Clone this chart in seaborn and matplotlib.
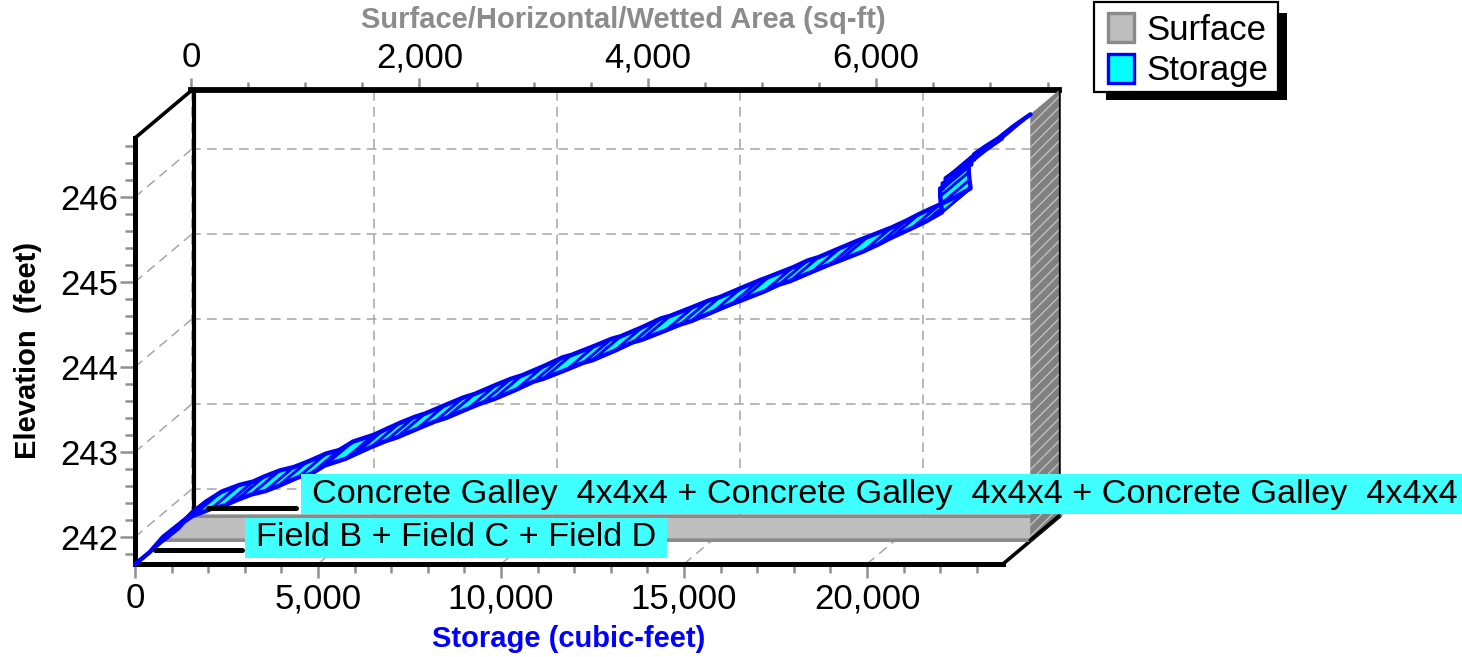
import matplotlib
matplotlib.use("Agg")
import matplotlib.pyplot as plt
import numpy as np
import seaborn as sns
from matplotlib.patches import Patch, Rectangle
from matplotlib.ticker import MultipleLocator, FuncFormatter
from matplotlib.transforms import IdentityTransform

# ---- data ----
storage_cf = [0, 400, 765, 1150, 1585, 2076, 2450, 2760, 3180, 3560, 3920, 4450, 4800, 5180, 5750, 6000, 6460, 6860,
              7150, 7700, 8200, 8500, 9100, 9500, 9800, 10400, 10900, 11150, 11800, 12250, 12500, 13100, 13600,
              13850, 14500, 14900, 15200, 15800, 16300, 16550, 17200, 17600, 17900, 18500, 19000, 19250, 19900,
              20300, 20660, 21216, 21600, 22050, 22020, 22000, 22000, 22070, 22070, 22150, 22150,
              22450, 22814, 23224, 23689]
elevation_ft = [241.68, 241.82, 242.00, 242.13, 242.25, 242.33, 242.37, 242.43, 242.50, 242.54, 242.60, 242.70, 242.74,
                242.84, 242.92, 242.97, 243.06, 243.13, 243.17, 243.27, 243.36, 243.40, 243.51, 243.58, 243.62,
                243.73, 243.83, 243.86, 243.97, 244.05, 244.08, 244.19, 244.29, 244.32, 244.43, 244.50, 244.54,
                244.65, 244.74, 244.78, 244.89, 244.97, 245.01, 245.12, 245.21, 245.25, 245.36, 245.44, 245.52,
                245.63, 245.71, 245.82, 245.92, 246.01, 246.10, 246.10, 246.16, 246.16, 246.22,
                246.31, 246.41, 246.55, 246.69]
surface_area = [0, 7590, 7590]
surface_elev = [241.68, 241.68, 246.69]
storage_ticks = [0, 5000, 10000, 15000, 20000]
area_ticks = [0, 2000, 4000, 6000]
elev_ticks = [242, 243, 244, 245, 246]
label_top = "Concrete Galley  4x4x4 + Concrete Galley  4x4x4 + Concrete Galley  4x4x4"
label_bottom = "Field B + Field C + Field D"
legend_names = ["Surface", "Storage"]

# ---- layout ----
W, H = 1462, 657
PX_S, PX_E = 0.0366, 85.0          # pixels per cubic-foot / per foot
PX_A = 0.1142                      # pixels per sq-ft
XMAX = 868 / PX_S
YMIN, YMAX = 241.682, 246.694
DX, DY = 57 / PX_S, 48 / PX_E      # full depth of the 3-D box in data units
BLUE, CYAN = "#0000FF", "#00FFFF"
LABEL_BG = "#40FFFF"
TICK = "#909090"
GRID = "#A6A6A6"
FS = 25
FS_L = 24.65
FS_T = 21

sns.set_theme(style="white")
plt.rcParams["font.family"] = ["Liberation Sans", "DejaVu Sans"]
plt.rcParams["lines.scale_dashes"] = False
plt.rcParams["hatch.linewidth"] = 1.0
DASH = (0, (7, 4.5))

fig = plt.figure(figsize=(W / 100, H / 100), dpi=100, facecolor="white")


def rect(l, t, r, b):
    return [l / W, 1 - b / H, (r - l) / W, (b - t) / H]


back = fig.add_axes(rect(191, 90, 1059, 516), zorder=1)
front = fig.add_axes(rect(135, 138, 1003, 564), zorder=2)
front.patch.set_alpha(0)
for a in (back, front):
    a.set_xlim(0, XMAX)
    a.set_ylim(YMIN, YMAX)

# back wall
back.set_xticks(storage_ticks)
back.set_yticks(elev_ticks)
back.grid(True, color=GRID, lw=1.1, ls=DASH)
back.tick_params(bottom=False, left=False, labelbottom=False, labelleft=False)
back.spines["bottom"].set_visible(False)
back.spines["left"].set_color("black")
back.spines["left"].set_linewidth(3)
back.spines["left"].set_position(("outward", -2))
back.spines["right"].set_color("black")
back.spines["right"].set_linewidth(1.8)
back.spines["top"].set_color("black")
back.spines["top"].set_linewidth(4.2)

sec = back.secondary_xaxis("top", functions=(lambda s: np.asarray(s) * PX_S / PX_A,
                                              lambda a: np.asarray(a) * PX_A / PX_S))
sec.set_xticks(area_ticks)
sec.xaxis.set_minor_locator(MultipleLocator(500))
sec.xaxis.set_major_formatter(FuncFormatter(lambda v, _: f"{v:,.0f}"))
sec.tick_params(which="major", length=8.5, width=1.8, color=TICK, labelsize=FS, pad=2.7, labelcolor="black")
sec.tick_params(which="minor", length=6, width=1.8, color=TICK)
sec.spines["top"].set_visible(False)
back.text(0.498, 1.132, "Surface/Horizontal/Wetted Area (sq-ft)", transform=back.transAxes, ha="center", va="bottom",
          fontsize=FS_T, fontweight="bold", color="#8C8C8C")

# front axes
front.set_xticks(storage_ticks)
front.xaxis.set_minor_locator(MultipleLocator(1000))
front.xaxis.set_major_formatter(FuncFormatter(lambda v, _: f"{v:,.0f}"))
front.set_yticks(elev_ticks)
front.yaxis.set_minor_locator(MultipleLocator(0.2))
front.tick_params(axis="x", which="major", bottom=True, length=10, width=1.8, color=TICK, labelsize=FS, pad=3, labelcolor="black")
front.tick_params(axis="x", which="minor", bottom=True, length=6.5, width=1.8, color=TICK)
front.tick_params(axis="y", which="major", left=True, length=11, width=1.8, color=TICK, labelsize=FS, pad=1, labelcolor="black")
front.tick_params(axis="y", which="minor", left=True, length=7, width=1.8, color=TICK)
front.spines["top"].set_visible(False)
front.spines["right"].set_visible(False)
for s in ("left", "bottom"):
    front.spines[s].set_color("black")
    front.spines[s].set_linewidth(3.6)

# diagonal grid on side wall and floor
for e in elev_ticks:
    front.plot([0, DX], [e, e + DY], color=GRID, lw=1.1, ls=DASH, clip_on=False, zorder=1)
for s in storage_ticks[1:]:
    front.plot([s, s + DX], [YMIN, YMIN + DY], color=GRID, lw=1.1, ls=DASH, clip_on=False, zorder=1)
front.plot([0, DX], [YMAX, YMAX + DY], color="black", lw=2.6, clip_on=False, zorder=1.5)
front.plot([XMAX, XMAX + DX], [YMIN, YMIN + DY], color="black", lw=2.6, clip_on=False, zorder=1.5)

# surface ribbon (between mid depth and back)
sx = np.array(surface_area) * PX_A / PX_S
sy = np.array(surface_elev)
fx, fy = sx + DX / 2, sy + DY / 2
bx, by = sx + DX, sy + DY
front.fill([fx[0], bx[0], bx[1], fx[1]], [fy[0], by[0], by[1], fy[1]], fc="#BEBEBE", ec="#8A8A8A", lw=2.6,
           clip_on=False, zorder=2, joinstyle="miter")
front.fill([fx[1], bx[1], bx[2], fx[2]], [fy[1], by[1], by[2], fy[2]], fc="#808080", ec="#C0C0C0", hatch="///", lw=0,
           clip_on=False, zorder=2.1)
front.plot([fx[1], bx[1]], [fy[1], by[1]], color="black", lw=2.6, clip_on=False, zorder=2.2)

# storage ribbon (between front and mid depth), one quad per curve segment
S = np.array(storage_cf, float)
E = np.array(elevation_ft, float)
for i in range(len(S) - 1):
    front.fill([S[i], S[i + 1], S[i + 1] + DX / 2, S[i] + DX / 2],
               [E[i], E[i + 1], E[i + 1] + DY / 2, E[i] + DY / 2],
               fc=CYAN, ec=BLUE, lw=2.0, clip_on=False, zorder=3, joinstyle="round")
sns.lineplot(x=S, y=E, ax=front, sort=False, estimator=None, color=BLUE, lw=3.2, clip_on=False, zorder=3.1, legend=False)
sns.lineplot(x=S + DX / 2, y=E + DY / 2, ax=front, sort=False, estimator=None, color=BLUE, lw=3.2, clip_on=False,
             zorder=3.1, legend=False)
front.set_xlim(0, XMAX)
front.set_ylim(YMIN, YMAX)

# callouts
for xs, ye in (((546, 2923), 241.85), ((1995, 4400), 242.34)):
    front.plot(xs, [ye, ye], color="black", lw=3.6, solid_capstyle="round", clip_on=False, zorder=4)
texts = [front.text(3306, 241.99, label_bottom, fontsize=FS_L, color="black", va="center", ha="left", zorder=5, clip_on=False),
         front.text(4836, 242.50, label_top, fontsize=FS_L, color="black", va="center", ha="left", zorder=5, clip_on=False)]

front.set_xlabel("Storage (cubic-feet)", fontsize=FS_T, fontweight="bold", color=BLUE)
front.xaxis.set_label_coords(0.5, -0.143)
front.set_ylabel("Elevation  (feet)", fontsize=FS_T, fontweight="bold", color="black")
front.yaxis.set_label_coords(-0.107, 0.502)

# legend box with hard shadow
fig.add_artist(Rectangle((1106 / W, 1 - 100 / H), 181 / W, 87 / H, transform=fig.transFigure, fc="black", ec="none", zorder=4))
fig.add_artist(Rectangle((1094 / W, 1 - 92 / H), 184 / W, 90 / H, transform=fig.transFigure, fc="white", ec="black",
                         lw=1.6, zorder=4.5))
handles = [Patch(fc="#BEBEBE", ec="#8A8A8A", lw=2.4, label=legend_names[0]),
           Patch(fc=CYAN, ec=BLUE, lw=2.4, label=legend_names[1])]
leg = fig.legend(handles=handles, loc="upper left", bbox_to_anchor=(1096.5 / W, 1 - 2 / H), borderaxespad=0,
                 frameon=False, fontsize=FS,
                 labelcolor="black", handlelength=0.74, handleheight=0.9, handletextpad=0.38, labelspacing=0.2, borderpad=0.33)
leg.set_zorder(5)

# label backgrounds sized from the rendered text
fig.canvas.draw()
renderer = fig.canvas.get_renderer()
for t in texts:
    bb = t.get_window_extent(renderer)
    cy = (bb.y0 + bb.y1) / 2
    front.add_patch(Rectangle((bb.x0 - 11, cy - 20), bb.width + 22, 40, transform=IdentityTransform(), fc=LABEL_BG,
                              ec="none", clip_on=False, zorder=4.5))

fig.savefig("out.png", dpi=100)
